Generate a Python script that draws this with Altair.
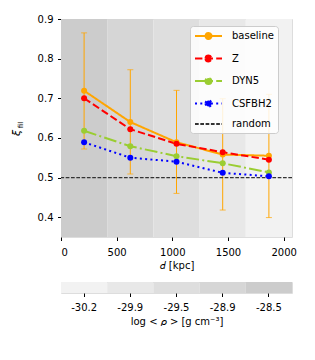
import altair as alt
import pandas as pd

# ---------------- data ----------------
d_vals = [207.5, 622.5, 1037.5, 1452.5, 1867.5]
series_names = ["baseline", "Z", "DYN5", "CSFBH2"]
baseline = [0.719, 0.640, 0.589, 0.558, 0.555]
z_vals = [0.700, 0.622, 0.585, 0.564, 0.545]
dyn5 = [0.618, 0.579, 0.554, 0.536, 0.513]
csfbh2 = [0.589, 0.550, 0.540, 0.512, 0.503]
err_lo = [0.572, 0.509, 0.460, 0.418, 0.399]
err_hi = [0.865, 0.772, 0.720, 0.699, 0.710]
random_level = [0.5]

band_lo = [0, 415, 830, 1245, 1660]
band_hi = [415, 830, 1245, 1660, 2075]
band_rho = ["-28.5", "-28.9", "-29.5", "-29.9", "-30.2"]
cbar_labels = ["-30.2", "-29.9", "-29.5", "-28.9", "-28.5"]
cbar_colors = ["#f2f2f2", "#e8e8e8", "#dedede", "#d6d6d6", "#cccccc"]

legend_names = series_names + ["random"]
legend_colors = ["orange", "red", "yellowgreen", "blue", "#333333"]
legend_fills = ["orange", "red", "yellowgreen", "blue", "transparent"]
legend_dashes = [[1, 0], [7.4, 3.2], [12.8, 3.2, 2, 3.2], [2, 3.3], [3.7, 1.6]]
legend_widths = [2, 2, 2, 2, 1.2]

FONT = "DejaVu Sans"

# ---------------- tables ----------------
rows = []
for name, vals in zip(series_names, [baseline, z_vals, dyn5, csfbh2]):
    for d, v in zip(d_vals, vals):
        rows.append({"d": d, "xi": v, "series": name})
lines_df = pd.DataFrame(rows)
err_df = pd.DataFrame({"d": d_vals, "lo": err_lo, "hi": err_hi})
bands_df = pd.DataFrame({"lo": band_lo, "hi": band_hi, "rho": band_rho})
rand_df = pd.DataFrame({"y": random_level, "series": ["random"]})
cbar_df = pd.DataFrame({"rho": cbar_labels})
legend_df = pd.DataFrame({"series": legend_names, "d": [d_vals[0]] * 5, "xi": [0.5] * 5})

W, H = 231, 218

xscale = alt.Scale(domain=[0, 2075], nice=False, zero=False)
yscale = alt.Scale(domain=[0.35, 0.9], nice=False, zero=False)
bandscale = alt.Scale(domain=cbar_labels, range=cbar_colors)
strokescale = alt.Scale(domain=legend_names, range=legend_colors)
fillscale = alt.Scale(domain=legend_names, range=legend_fills)
dashscale = alt.Scale(domain=legend_names, range=legend_dashes)

xaxis = alt.Axis(title="𝑑 [kpc]", values=[0, 500, 1000, 1500, 2000], format="d",
                 grid=False, domain=False, tickSize=3.5, tickColor="black",
                 labelFontSize=10, titleFontSize=10, titleFontWeight="normal",
                 labelColor="black", titleColor="black", labelPadding=7, titlePadding=3,
                 labelFont=FONT, titleFont=FONT)
yaxis = alt.Axis(title=None, values=[0.4, 0.5, 0.6, 0.7, 0.8, 0.9], format=".1f",
                 grid=False, domain=False, tickSize=3.5, tickColor="black",
                 labelFontSize=10, labelColor="black", labelPadding=4.5, labelFont=FONT)

# legend glyphs: a 27px line (starting at the symbol box's left edge) with a 3px-radius dot
circle_path = "M-1,0H4.4M1.1,0A0.6,0.6 0 1,0 2.3,0A0.6,0.6 0 1,0 1.1,0"
legend_shapes = [circle_path] * 4 + ["M-1,0H4.4"]

legend = alt.Legend(
    title=None, orient="none", legendX=129, legendY=7, padding=4,
    fillColor="rgba(255,255,255,0.85)", strokeColor="#cccccc", cornerRadius=3,
    symbolSize=100, symbolOpacity=1,
    labelFontSize=10, labelFont=FONT, labelColor="black", labelOffset=26, rowPadding=6.5,
)

bands = alt.Chart(bands_df).mark_rect().encode(
    x=alt.X("lo:Q", scale=xscale, axis=xaxis),
    x2="hi:Q",
    y=alt.value(0),
    y2=alt.value(H),
    color=alt.Color("rho:N", scale=bandscale, legend=None),
)

err_rule = alt.Chart(err_df).mark_rule(color="orange", strokeWidth=1).encode(
    x=alt.X("d:Q", scale=xscale),
    y=alt.Y("lo:Q", scale=yscale, axis=yaxis),
    y2="hi:Q",
)
cap_lo = alt.Chart(err_df).mark_tick(color="orange", orient="horizontal", size=6, thickness=1).encode(
    x=alt.X("d:Q", scale=xscale), y=alt.Y("lo:Q", scale=yscale))
cap_hi = alt.Chart(err_df).mark_tick(color="orange", orient="horizontal", size=6, thickness=1).encode(
    x=alt.X("d:Q", scale=xscale), y=alt.Y("hi:Q", scale=yscale))

rand_rule = alt.Chart(rand_df).mark_rule(strokeWidth=1.2, strokeDash=[3.7, 1.6], color="#333333").encode(
    y=alt.Y("y:Q", scale=yscale),
)

lines = alt.Chart(lines_df).mark_line(strokeWidth=2).encode(
    x=alt.X("d:Q", scale=xscale),
    y=alt.Y("xi:Q", scale=yscale),
    stroke=alt.Stroke("series:N", scale=strokescale, legend=legend),
    strokeDash=alt.StrokeDash("series:N", scale=dashscale, legend=legend),
    order=alt.Order("d:Q"),
)
points = alt.Chart(lines_df).mark_point(filled=True, size=36, opacity=1).encode(
    x=alt.X("d:Q", scale=xscale),
    y=alt.Y("xi:Q", scale=yscale),
    fill=alt.Fill("series:N", scale=fillscale, legend=legend),
)

# invisible helper layer that only carries the legend glyphs
legend_layer = alt.Chart(legend_df).mark_point(opacity=0, filled=True).encode(
    x=alt.X("d:Q", scale=xscale),
    y=alt.Y("xi:Q", scale=yscale),
    fill=alt.Fill("series:N", scale=fillscale, legend=legend),
    stroke=alt.Stroke("series:N", scale=strokescale, legend=legend),
    strokeDash=alt.StrokeDash("series:N", scale=dashscale, legend=legend),
    shape=alt.Shape("series:N", scale=alt.Scale(domain=legend_names, range=legend_shapes), legend=legend),
    strokeWidth=alt.StrokeWidth("series:N", scale=alt.Scale(domain=legend_names, range=legend_widths), legend=legend),
)

one = pd.DataFrame({"k": [0]})
xi_text = alt.Chart(one).mark_text(text="ξ", angle=270, fontSize=11, fontStyle="italic",
                                   font=FONT, color="black", align="center", baseline="middle").encode(
    x=alt.value(-44), y=alt.value(114))
fil_text = alt.Chart(one).mark_text(text="fil", angle=270, fontSize=7, font=FONT, color="black",
                                    align="center", baseline="middle").encode(
    x=alt.value(-40), y=alt.value(106))

main = alt.layer(bands, err_rule, cap_lo, cap_hi, rand_rule, lines, points, legend_layer,
                 xi_text, fil_text).properties(width=W, height=H)

cbar = alt.Chart(cbar_df).mark_rect().encode(
    x=alt.X("rho:N", sort=cbar_labels, scale=alt.Scale(domain=cbar_labels, paddingInner=0, paddingOuter=0),
            axis=alt.Axis(title="log < 𝜌 > [g cm⁻³]", labelAngle=0, tickSize=3.5, tickColor="black",
                          domain=False, grid=False, labelFontSize=10, titleFontSize=10,
                          titleFontWeight="normal", labelColor="black", titleColor="black",
                          labelPadding=6, titlePadding=4, labelFont=FONT, titleFont=FONT)),
    color=alt.Color("rho:N", scale=bandscale, legend=None),
).properties(width=W, height=11)

chart = alt.vconcat(main, cbar, spacing=10).resolve_scale(
    color="independent", strokeDash="independent", fill="independent", x="independent",
    stroke="independent", shape="independent", strokeWidth="independent"
).resolve_legend(fill="independent", stroke="independent", strokeDash="independent",
                 shape="independent", strokeWidth="independent", color="independent").properties(
    padding={"left": 2, "top": 5, "right": 5, "bottom": 5}
).configure_view(stroke="black", strokeWidth=1).configure(background="white")

chart.save("out.html", embed_options={"renderer": "svg", "actions": False})
